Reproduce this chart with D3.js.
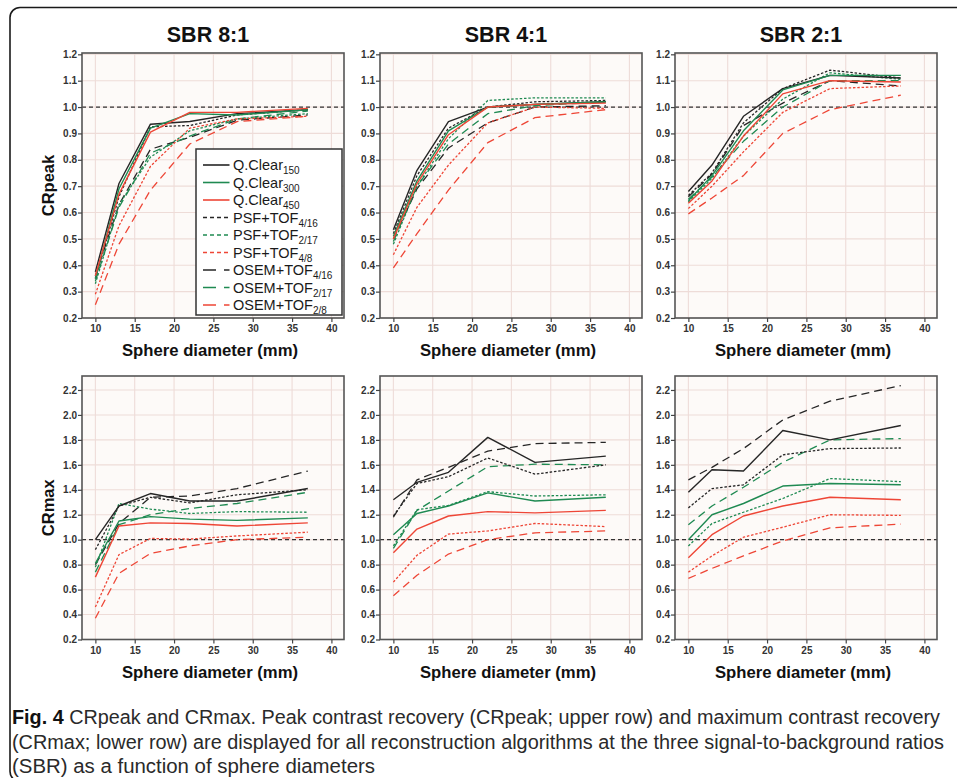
<!DOCTYPE html>
<html><head><meta charset="utf-8">
<script src="https://cdn.jsdelivr.net/npm/d3@7"></script>
<style>body{margin:0;background:#fff}svg{display:block}</style>
</head><body><svg id="c" width="957" height="778"></svg>
<script>
// ---------------- data ----------------
const diameters = [10, 13, 17, 22, 28, 37];
const seriesNames = [
  ["Q.Clear", "150"], ["Q.Clear", "300"], ["Q.Clear", "450"],
  ["PSF+TOF", "4/16"], ["PSF+TOF", "2/17"], ["PSF+TOF", "4/8"],
  ["OSEM+TOF", "4/16"], ["OSEM+TOF", "2/17"], ["OSEM+TOF", "2/8"]
];
const sbrTitles = ["SBR 8:1", "SBR 4:1", "SBR 2:1"];
const rowLabels = ["CRpeak", "CRmax"];
const xTicks = [10, 15, 20, 25, 30, 35, 40];
const yTicksPeak = [0.2, 0.3, 0.4, 0.5, 0.6, 0.7, 0.8, 0.9, 1.0, 1.1, 1.2];
const yTicksMax = [0.2, 0.4, 0.6, 0.8, 1.0, 1.2, 1.4, 1.6, 1.8, 2.0, 2.2];

const crPeakSBR8 = [
  [0.375, 0.71, 0.935, 0.945, 0.975, 0.99],
  [0.35, 0.69, 0.92, 0.975, 0.97, 0.99],
  [0.36, 0.67, 0.905, 0.98, 0.98, 0.995],
  [0.35, 0.66, 0.925, 0.93, 0.97, 0.99],
  [0.33, 0.63, 0.81, 0.91, 0.955, 0.975],
  [0.29, 0.55, 0.775, 0.92, 0.955, 0.965],
  [0.36, 0.63, 0.84, 0.885, 0.95, 0.97],
  [0.34, 0.62, 0.825, 0.89, 0.955, 0.985],
  [0.25, 0.48, 0.685, 0.86, 0.945, 0.965]
];
const crPeakSBR4 = [
  [0.535, 0.76, 0.945, 1.0, 1.01, 1.02],
  [0.51, 0.72, 0.91, 1.0, 1.01, 1.02],
  [0.50, 0.71, 0.895, 1.0, 1.01, 1.015],
  [0.52, 0.74, 0.92, 1.0, 1.02, 1.025],
  [0.48, 0.70, 0.88, 1.025, 1.035, 1.035],
  [0.44, 0.62, 0.78, 0.94, 1.0, 0.995],
  [0.50, 0.69, 0.845, 0.94, 1.0, 1.005],
  [0.49, 0.70, 0.86, 0.975, 1.005, 1.02],
  [0.39, 0.52, 0.685, 0.865, 0.96, 0.99]
];
const crPeakSBR2 = [
  [0.68, 0.78, 0.965, 1.07, 1.12, 1.11],
  [0.645, 0.74, 0.91, 1.065, 1.12, 1.12],
  [0.635, 0.72, 0.89, 1.05, 1.10, 1.095],
  [0.665, 0.75, 0.94, 1.07, 1.14, 1.11],
  [0.64, 0.73, 0.89, 1.03, 1.13, 1.105],
  [0.615, 0.70, 0.83, 0.98, 1.07, 1.08],
  [0.66, 0.745, 0.93, 1.015, 1.10, 1.08],
  [0.65, 0.735, 0.87, 1.0, 1.10, 1.10],
  [0.595, 0.655, 0.74, 0.90, 0.99, 1.045]
];
const crMaxSBR8 = [
  [1.0, 1.27, 1.37, 1.31, 1.31, 1.41],
  [0.81, 1.15, 1.185, 1.165, 1.155, 1.175],
  [0.70, 1.11, 1.135, 1.13, 1.11, 1.135],
  [0.92, 1.27, 1.34, 1.295, 1.36, 1.40],
  [0.78, 1.29, 1.245, 1.21, 1.225, 1.22],
  [0.46, 0.88, 1.01, 1.005, 1.03, 1.06],
  [0.80, 1.13, 1.34, 1.35, 1.41, 1.55],
  [0.74, 1.12, 1.20, 1.25, 1.29, 1.38],
  [0.37, 0.73, 0.89, 0.95, 1.0, 1.02]
];
const crMaxSBR4 = [
  [1.32, 1.46, 1.54, 1.82, 1.62, 1.67],
  [1.04, 1.21, 1.27, 1.375, 1.31, 1.34],
  [0.895, 1.085, 1.19, 1.225, 1.215, 1.235],
  [1.19, 1.45, 1.505, 1.655, 1.525, 1.60],
  [0.95, 1.24, 1.275, 1.385, 1.35, 1.36],
  [0.66, 0.875, 1.045, 1.07, 1.13, 1.105],
  [1.18, 1.48, 1.58, 1.71, 1.77, 1.78],
  [0.93, 1.235, 1.39, 1.585, 1.605, 1.60],
  [0.55, 0.715, 0.885, 1.0, 1.055, 1.07]
];
const crMaxSBR2 = [
  [1.38, 1.56, 1.55, 1.875, 1.80, 1.915],
  [1.0, 1.20, 1.29, 1.43, 1.45, 1.44],
  [0.855, 1.04, 1.19, 1.27, 1.34, 1.32],
  [1.255, 1.41, 1.44, 1.68, 1.73, 1.735],
  [0.95, 1.13, 1.22, 1.33, 1.49, 1.465],
  [0.74, 0.87, 1.02, 1.10, 1.20, 1.195],
  [1.48, 1.58, 1.73, 1.96, 2.11, 2.235],
  [1.12, 1.27, 1.42, 1.62, 1.80, 1.81],
  [0.69, 0.77, 0.87, 0.99, 1.095, 1.125]
];
const captionLines = [
  ["Fig. 4", " CRpeak and CRmax. Peak contrast recovery (CRpeak; upper row) and maximum contrast recovery"],
  ["", "(CRmax; lower row) are displayed for all reconstruction algorithms at the three signal-to-background ratios"],
  ["", "(SBR) as a function of sphere diameters"]
];

// ---------------- styles / layout ----------------
const colors = ["#262626", "#1f8a52", "#ee4636"];
const dashPlot = [null, "2.5,1.8", "8,5"];
const dashLegend = [null, "4,3", "13,8"];
const FONT = "'Liberation Sans', Arial, Helvetica, sans-serif";
const colLeft = [82, 380, 675];
const plotW = 262;
const rows = [
  {top: 53, bottom: 318, domain: [0.2, 1.205], ticks: yTicksPeak, data: [crPeakSBR8, crPeakSBR4, crPeakSBR2]},
  {top: 376, bottom: 639.5, domain: [0.2, 2.312], ticks: yTicksMax, data: [crMaxSBR8, crMaxSBR4, crMaxSBR2]}
];

const svg = d3.select("#c");

// figure frame
svg.append("rect").attr("x", 10).attr("y", 7.5).attr("width", 970).attr("height", 774)
  .attr("rx", 10).attr("fill", "none").attr("stroke", "#1a1a1a").attr("stroke-width", 1.6);

rows.forEach((row, ri) => {
  row.data.forEach((panel, ci) => {
    const L = colLeft[ci];
    const x = d3.scaleLinear().domain([8.3, 41.6]).range([L, L + plotW]);
    const y = d3.scaleLinear().domain(row.domain).range([row.bottom, row.top]);
    const g = svg.append("g");
    g.append("rect").attr("x", L).attr("y", row.top).attr("width", plotW)
      .attr("height", row.bottom - row.top).attr("fill", "#fdfaf8");
    g.selectAll(".vg").data(xTicks).join("line")
      .attr("x1", d => x(d)).attr("x2", d => x(d)).attr("y1", row.top).attr("y2", row.bottom)
      .attr("stroke", "#eedcd8").attr("stroke-width", 1.1);
    g.selectAll(".hg").data(row.ticks).join("line")
      .attr("y1", d => y(d)).attr("y2", d => y(d)).attr("x1", L).attr("x2", L + plotW)
      .attr("stroke", "#eedcd8").attr("stroke-width", 1.1);
    g.append("line").attr("x1", L).attr("x2", L + plotW).attr("y1", y(1)).attr("y2", y(1))
      .attr("stroke", "#333").attr("stroke-width", 1.2).attr("stroke-dasharray", "4,3");
    const line = d3.line().x((d, i) => x(diameters[i])).y(d => y(d));
    const order = [6, 7, 8, 3, 4, 5, 0, 1, 2];
    order.forEach(si => {
      const style = Math.floor(si / 3), col = si % 3;
      g.append("path").datum(panel[si]).attr("d", line)
        .attr("fill", "none").attr("stroke", colors[col])
        .attr("stroke-width", style === 0 ? 1.4 : 1.3)
        .attr("stroke-dasharray", dashPlot[style])
        .attr("stroke-linejoin", "round");
    });
    g.append("rect").attr("x", L).attr("y", row.top).attr("width", plotW)
      .attr("height", row.bottom - row.top).attr("fill", "none")
      .attr("stroke", "#555").attr("stroke-width", 1.6);
    const ya = g.append("g").attr("transform", `translate(${L},0)`)
      .call(d3.axisLeft(y).tickValues(row.ticks).tickFormat(d3.format(".1f")).tickSize(4).tickPadding(1));
    const xa = g.append("g").attr("transform", `translate(0,${row.bottom})`)
      .call(d3.axisBottom(x).tickValues(xTicks).tickSize(4).tickPadding(3));
    [ya, xa].forEach(a => {
      a.select(".domain").remove();
      a.selectAll(".tick line").attr("stroke", "#444").attr("stroke-width", 1.2);
      a.selectAll(".tick text").attr("font-family", FONT).attr("font-weight", "bold")
        .attr("font-size", 10).attr("fill", "#333");
    });
    g.append("text").attr("x", L + plotW / 2 - 3).attr("y", row.bottom + 38)
      .attr("text-anchor", "middle").attr("font-family", FONT).attr("font-weight", "bold")
      .attr("font-size", 16).attr("fill", "#111")
      .attr("textLength", 176).attr("lengthAdjust", "spacingAndGlyphs").text("Sphere diameter (mm)");
    if (ri === 0) {
      g.append("text").attr("x", L + plotW / 2 - 5).attr("y", 41.5)
        .attr("text-anchor", "middle").attr("font-family", FONT).attr("font-weight", "bold")
        .attr("font-size", 21.5).attr("fill", "#111").text(sbrTitles[ci]);
    }
  });
  const cy = (row.top + row.bottom) / 2;
  svg.append("text").attr("transform", `translate(54,${cy}) rotate(-90)`)
    .attr("text-anchor", "middle").attr("font-family", FONT).attr("font-weight", "bold")
    .attr("font-size", 16.5).attr("fill", "#111").text(rowLabels[ri]);
});

// legend
const lg = svg.append("g");
lg.append("rect").attr("x", 196).attr("y", 149).attr("width", 146).attr("height", 166)
  .attr("fill", "#fff").attr("stroke", "#333").attr("stroke-width", 1.5);
seriesNames.forEach((nm, i) => {
  const by = 170 + i * 17.5;
  const style = Math.floor(i / 3), col = i % 3;
  lg.append("line").attr("x1", 203).attr("x2", 229.5).attr("y1", by - 5).attr("y2", by - 5)
    .attr("stroke", colors[col]).attr("stroke-width", 1.6).attr("stroke-dasharray", dashLegend[style]);
  const t = lg.append("text").attr("x", 233).attr("y", by).attr("font-family", FONT)
    .attr("font-size", 14.5).attr("fill", "#1a1a1a");
  t.append("tspan").text(nm[0]);
  t.append("tspan").attr("font-size", 10).attr("dy", 4).text(nm[1]);
});

// caption
const capW = [928, 932, 363];
captionLines.forEach((ln, i) => {
  const t = svg.append("text").attr("x", 12).attr("y", 724 + i * 24.5)
    .attr("font-family", "'Liberation Sans Narrow', 'Arial Narrow', " + FONT)
    .attr("font-size", 19.5).attr("fill", "#2a2a2a")
    .attr("textLength", capW[i]).attr("lengthAdjust", "spacingAndGlyphs");
  if (ln[0]) t.append("tspan").attr("font-weight", "bold").attr("fill", "#111").text(ln[0]);
  t.append("tspan").text(ln[1]);
});
</script></body></html>
